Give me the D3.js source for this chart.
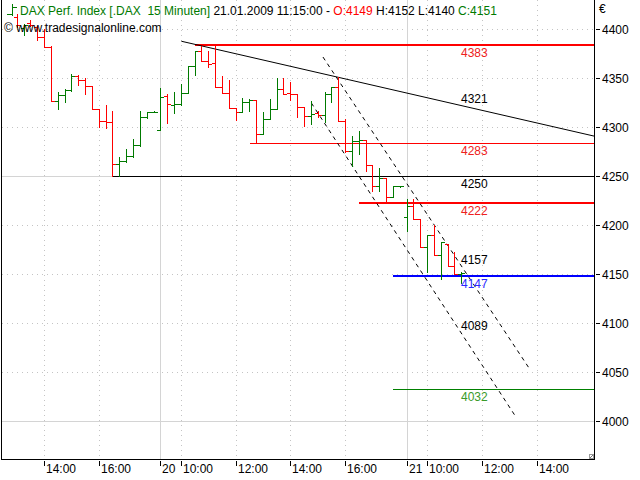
<!DOCTYPE html>
<html><head><meta charset="utf-8">
<script src="https://cdn.jsdelivr.net/npm/d3@7"></script>
<style>
html,body{margin:0;padding:0;background:#fff;}
svg{display:block;font-family:"Liberation Sans",Arial,sans-serif;}
text{white-space:pre;}
</style></head><body>
<svg id="chart" width="640" height="480"></svg>
<script>
// ---------- DATA ----------
const firstSlot = -4; // slot 0 = 19.01. 14:00, 15-minute bars
const opens  = [4412,4401,4406,4402,4391,4381.5,4326.5,4332,4337,4351.5,4347.5,4341,4318,4306,4305,4262,4265,4269.5,4281.5,4309.5,4315,
                4296,4331,4321.5,4322.5,4334.5,4362,4377,4366.5,4365,4340,4334.5,4318.5,4314.5,4325.5,4327.5,4292.5,4308,4318,4338.5,4334,4333,4319.5,4311,4313.5,4311.5,4333.5,4340,4306,4275.5,4285,4286.5,4261,4239,4247.5,4228,4239,
                4207.5,4218.5,4206,4177,4189,4168.5,4180,4158,4149];
const highs  = [4415,4405,4408.5,4402.5,4400,4382,4335,4338,4354,4353,4350,4341,4318,4322,4315.5,4269,4277,4287.5,4316,4315,4315.5,
                4339.5,4333.5,4335,4343.5,4362,4377.5,4382.5,4377.5,4382.5,4352,4347,4319,4329,4328,4327.5,4314.5,4328,4349.5,4349.5,4345,4333.5,4319.5,4326.5,4316,4335,4340,4350.3,4308,4290,4295,4286.5,4261,4258,4247.5,4239,4239.3,
                4226,4226,4206,4189,4199,4182,4180.5,4172,4152];
const lows   = [4402,4393,4403,4388,4381.5,4326.5,4318,4325,4336.5,4342,4333,4318,4299,4298.5,4249.5,4249.5,4264,4268.5,4280.5,4309,4314.5,
                4296,4303.5,4313.5,4322,4334.5,4353,4366.5,4360.5,4340,4334,4319,4307,4314.5,4316,4283,4292.5,4308,4318,4333.5,4327,4309.5,4301,4302.5,4310,4304.5,4325,4306,4274,4260,4272,4255,4234.5,4234.5,4221.5,4228,4238.7,
                4193,4206,4177,4151.5,4168.5,4144.5,4158,4149,4140];
const closes = [4403.5,4404,4404,4391,4381.5,4326.5,4332.5,4337,4351.5,4347.5,4341,4318,4306,4305,4262,4265,4269.5,4281.5,4309.5,4315,4315.2,
                4330,4323,4322.5,4334.5,4362,4377,4366.5,4363.5,4340,4334.5,4319,4314.5,4325.5,4327.5,4292.5,4308,4318,4338.5,4333.5,4333,4319.5,4311,4313,4311.5,4333.5,4340,4306,4275.5,4285,4286.5,4261,4239,4247.5,4228,4239,4239,
                4218.5,4206,4177,4189,4168.5,4182,4158,4149,4151];

const xTickLabels = ["14:00","16:00","20","10:00","12:00","14:00","16:00","21","10:00","12:00","14:00"];
const xTickSlots  = [0, 8, 17, 20, 28, 36, 44, 53, 56, 64, 72];
const dayBreakSlots = [17, 53];
const yTickValues = [4000,4050,4100,4150,4200,4250,4300,4350,4400];

// horizontal levels
const levelValues = [4383, 4283, 4250, 4222, 4147, 4032];
const levelStartSlots = [22, 30, 10, 46, 51, 51];
// trend lines [startSlot, startValue, endSlot, endValue]
const trendStartSlots = [20, 40.7, 39.0];
const trendStartValues = [4387, 4370.9, 4324.0];
const trendEndSlots = [80.4, 70.97, 68.77];
const trendEndValues = [4290.1, 4052.0, 4005.1];
const trendLabels = [4321, 4157, 4089];

// ---------- STYLES ----------
const levelColors = ["#ff0000","#ff0000","#000000","#ff0000","#0000ff","#008000"];
const levelTextColors = ["#ee2020","#ee2020","#000000","#ee2020","#2a2aff","#3a9a2a"];
const levelWidths = [2,1,1,2,2,1];
const trendDash = [null, "4,4", "4,4"];
const UP = "#007a00", DOWN = "#ff0000";

// ---------- SCALES ----------
const svg = d3.select("#chart");
const x = d3.scaleLinear().domain([-6.3, 80.4]).range([1.5, 594.5]);
const y = d3.scaleLinear().domain([4000, 4400]).range([420.5, 28.5]);
const plotL = 1.5, plotR = 594.5, plotB = 459.5;
const lastSlot = firstSlot + closes.length - 1;
const px = s => Math.floor(x(s)) + 0.5;
const py = v => Math.round(y(v)) + 0.5;

svg.append("defs").append("clipPath").attr("id","clip")
  .append("rect").attr("x",2).attr("y",0).attr("width",592).attr("height",459);

// ---------- GRID ----------
const grid = svg.append("g").attr("shape-rendering","crispEdges").attr("clip-path","url(#clip)");
yTickValues.forEach(v => {
  const solid = v % 250 === 0;
  grid.append("line").attr("x1",plotL).attr("x2",plotR).attr("y1",py(v)).attr("y2",py(v))
    .attr("stroke", solid ? "#d4d4d4" : "#c4c4c4").attr("stroke-dasharray", solid ? null : "1,4");
});
xTickSlots.forEach(s => {
  const solid = dayBreakSlots.includes(s);
  grid.append("line").attr("x1",px(s)).attr("x2",px(s)).attr("y1",0).attr("y2",plotB)
    .attr("stroke", solid ? "#d4d4d4" : "#c4c4c4").attr("stroke-dasharray", solid ? null : "1,4");
});

// ---------- LEVELS ----------
const lv = svg.append("g").attr("shape-rendering","crispEdges").attr("clip-path","url(#clip)");
levelValues.forEach((v,k) => {
  const w = levelWidths[k];
  const yy = w % 2 === 0 ? Math.round(y(v)) : py(v);
  lv.append("line").attr("x1",x(levelStartSlots[k])).attr("x2",plotR).attr("y1",yy).attr("y2",yy)
    .attr("stroke",levelColors[k]).attr("stroke-width",w);
});

// ---------- TREND LINES ----------
const tr = svg.append("g").attr("clip-path","url(#clip)");
trendStartSlots.forEach((s,k) => {
  tr.append("line").attr("x1",x(s)).attr("y1",y(trendStartValues[k]))
    .attr("x2",x(trendEndSlots[k])).attr("y2",y(trendEndValues[k]))
    .attr("stroke","#000").attr("stroke-width",1).attr("stroke-dasharray",trendDash[k]);
});

// ---------- BARS ----------
const bars = svg.append("g").attr("shape-rendering","crispEdges").attr("clip-path","url(#clip)");
const data = closes.map((c,k) => ({s:firstSlot+k, o:opens[k], h:highs[k], l:lows[k], c:c}));
const bg = bars.selectAll("g").data(data).join("g")
  .attr("stroke", d => d.c >= d.o ? UP : DOWN);
bg.append("line").attr("x1",d=>px(d.s)).attr("x2",d=>px(d.s))
  .attr("y1",d=>Math.round(y(d.h))).attr("y2",d=>Math.round(y(d.l))+1);
bg.append("line").attr("x1",d=>px(d.s)-3.5).attr("x2",d=>px(d.s))
  .attr("y1",d=>py(d.o)).attr("y2",d=>py(d.o));
bg.append("line").attr("x1",d=>px(d.s)).attr("x2",d=>px(d.s)+3.5)
  .attr("y1",d=>py(d.c)).attr("y2",d=>py(d.c));

// ---------- LABELS ----------
const lblX = Math.floor(x(lastSlot));
const lab = svg.append("g").attr("font-size",12);
levelValues.forEach((v,k) => {
  lab.append("text").attr("x",lblX).attr("y",Math.round(y(v))+12)
    .attr("fill",levelTextColors[k]).text(String(v));
});
trendLabels.forEach((v,k) => {
  lab.append("text").attr("x",lblX).attr("y",Math.round(y(v))-3.5)
    .attr("fill","#000").text(String(v));
});

// ---------- FRAME ----------
const fr = svg.append("g").attr("shape-rendering","crispEdges").attr("stroke","#000");
fr.append("line").attr("x1",plotL).attr("x2",plotL).attr("y1",0).attr("y2",plotB);
fr.append("line").attr("x1",plotR).attr("x2",plotR).attr("y1",0).attr("y2",plotB);
fr.append("line").attr("x1",plotL).attr("x2",plotR).attr("y1",plotB).attr("y2",plotB);
// resize glyph
svg.append("rect").attr("x",589.5).attr("y",454.5).attr("width",4).attr("height",4)
  .attr("fill","#fff").attr("stroke","#999").attr("shape-rendering","crispEdges");
svg.append("line").attr("x1",590).attr("y1",458).attr("x2",593).attr("y2",455).attr("stroke","#777");

// ---------- Y AXIS ----------
const ya = svg.append("g").attr("font-size",12).attr("fill","#000");
yTickValues.forEach(v => {
  ya.append("line").attr("x1",596).attr("x2",600).attr("y1",py(v)).attr("y2",py(v))
    .attr("stroke","#000").attr("shape-rendering","crispEdges");
  ya.append("text").attr("x",602).attr("y",Math.round(y(v))+4.5).text(String(v));
});
ya.append("text").attr("x",599).attr("y",13).text("€");

// ---------- X AXIS ----------
const xa = svg.append("g").attr("font-size",12).attr("fill","#000");
xTickSlots.forEach((s,k) => {
  xa.append("line").attr("x1",px(s)).attr("x2",px(s)).attr("y1",461).attr("y2",466)
    .attr("stroke","#000").attr("shape-rendering","crispEdges");
  xa.append("text").attr("x",px(s)+1.5).attr("y",473).text(xTickLabels[k]);
});

// ---------- HEADER ----------
const ic = svg.append("g").attr("stroke","#007a00").attr("shape-rendering","crispEdges");
ic.append("line").attr("x1",12.5).attr("x2",12.5).attr("y1",4).attr("y2",16);
ic.append("line").attr("x1",7).attr("x2",12.5).attr("y1",14.5).attr("y2",14.5);
ic.append("line").attr("x1",12.5).attr("x2",17).attr("y1",7.5).attr("y2",7.5);
const ht = svg.append("text").attr("x",20).attr("y",15).attr("font-size",12);
ht.append("tspan").attr("fill","#007a00").text("DAX Perf. Index [.DAX  15 Minuten] ");
ht.append("tspan").attr("fill","#000").text("21.01.2009 11:15:00 - ");
ht.append("tspan").attr("fill","#ff0000").text("O:4149 ");
ht.append("tspan").attr("fill","#000").text("H:4152 L:4140 ");
ht.append("tspan").attr("fill","#007a00").text("C:4151");
svg.append("text").attr("x",4).attr("y",32).attr("font-size",12).attr("fill","#000")
  .text("© www.tradesignalonline.com");
</script>
</body></html>
